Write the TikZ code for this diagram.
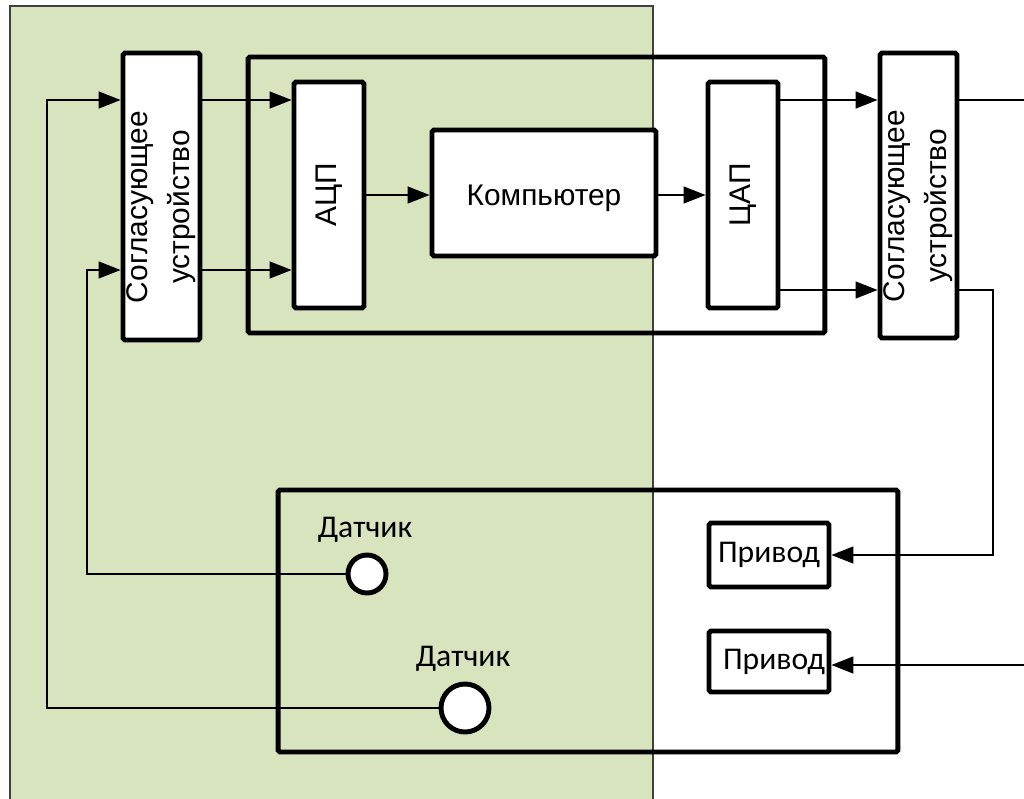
\documentclass[tikz,border=0pt]{standalone}
\usepackage{fontspec}
\setmainfont{Liberation Sans}
\newfontfamily\calfont{Carlito}
\usetikzlibrary{arrows.meta,positioning}
\definecolor{zona}{HTML}{D7E4BD}

\begin{document}
\begin{tikzpicture}[x=0.02cm, y=-0.02cm,
  bloque/.style={draw, line width=2.8pt, fill=white, rounded corners=1pt, inner sep=0pt},
  marco/.style={draw, line width=2.8pt, rounded corners=1pt, inner sep=0pt},
  sensor/.style={circle, draw, line width=2.8pt, fill=white, inner sep=0pt},
  conex/.style={line width=0.8pt},
  flecha/.style={conex, -{Triangle[length=0.44cm, width=0.34cm]}},
  texto/.style={font=\fontsize{17}{24}\selectfont, align=center},
  rotulo/.style={font=\calfont\fontsize{18}{22}\selectfont}]
% Marco de la imagen y zona verde
\useasboundingbox (0,0) rectangle (1024,798);
\fill[white] (0,0) rectangle (1024,798);
\draw[fill=zona, draw=black!75, line width=0.8pt] (10,6) rectangle (653,805);

% Bloque de entrada
\node[bloque, minimum width=1.54cm, minimum height=5.74cm] (sogl1) at (161.5,196.5) {};
\node[texto, rotate=90] at ([yshift=-6pt]sogl1.center) {Согласующее\\устройство};

% Marco del controlador y sus bloques
\node[marco, minimum width=11.54cm, minimum height=5.52cm] (ctrl) at (536.5,195) {};
\node[bloque, minimum width=1.4cm, minimum height=4.52cm] (adc) at (329,195) {};
\node[texto, rotate=90] at (adc) {АЦП};
\node[bloque, minimum width=4.48cm, minimum height=2.52cm] (comp) at (544,193) {};
\node[texto] at ([yshift=-3pt]comp.center) {Компьютер};
\node[bloque, minimum width=1.4cm, minimum height=4.52cm] (dac) at (743,195) {};
\node[texto, rotate=90] at (dac) {ЦАП};

% Bloque de salida
\node[bloque, minimum width=1.54cm, minimum height=5.70cm] (sogl2) at (918.5,195.5) {};
\node[texto, rotate=90] at ([yshift=-6pt]sogl2.center) {Согласующее\\устройство};

% Objeto: sensores y accionamientos
\node[marco, minimum width=12.4cm, minimum height=5.24cm] (planta) at (588,621) {};
\node[sensor, minimum size=0.76cm] (sens1) at (367,574) {};
\node[sensor, minimum size=0.96cm] (sens2) at (465,708) {};
\node[rotulo] (et1) at (365,530) {Датчик};
\node[rotulo] (et2) at (463,659) {Датчик};
\node[bloque, rotulo, minimum width=2.4cm, minimum height=1.28cm] (drive1) at (769,555) {Привод};
\node[bloque, rotulo, minimum width=2.4cm, minimum height=1.22cm] (drive2) at (769,661.5) {\hspace{0.2cm}Привод};

% Puntos de quiebre
\coordinate (esq1) at (47,100);
\coordinate (esq2) at (87,270);
\coordinate (esq3) at (993,290);
\coordinate (sal1) at (1024,100);
\coordinate (sal2) at (1024,665);

% Conexiones
\draw[flecha] (sens2.west) -| (esq1) -- (sogl1.west |- esq1);
\draw[flecha] (sens1.west) -| (esq2) -- (sogl1.west |- esq2);
\draw[flecha] (sogl1.east |- esq1) -- (adc.west |- esq1);
\draw[flecha] (sogl1.east |- esq2) -- (adc.west |- esq2);
\draw[flecha] (adc.east) -- (adc.east -| comp.west);
\draw[flecha] (comp.east |- dac) -- (dac.west);
\draw[flecha] (dac.east |- sal1) -- (sogl2.west |- sal1);
\draw[flecha] (dac.east |- esq3) -- (sogl2.west |- esq3);
\draw[conex] (sogl2.east |- sal1) -- (sal1);
\draw[flecha] (sogl2.east |- esq3) -- (esq3) |- (drive1.east);
\draw[flecha] (sal2) -- (drive2.east |- sal2);
\end{tikzpicture}
\end{document}
